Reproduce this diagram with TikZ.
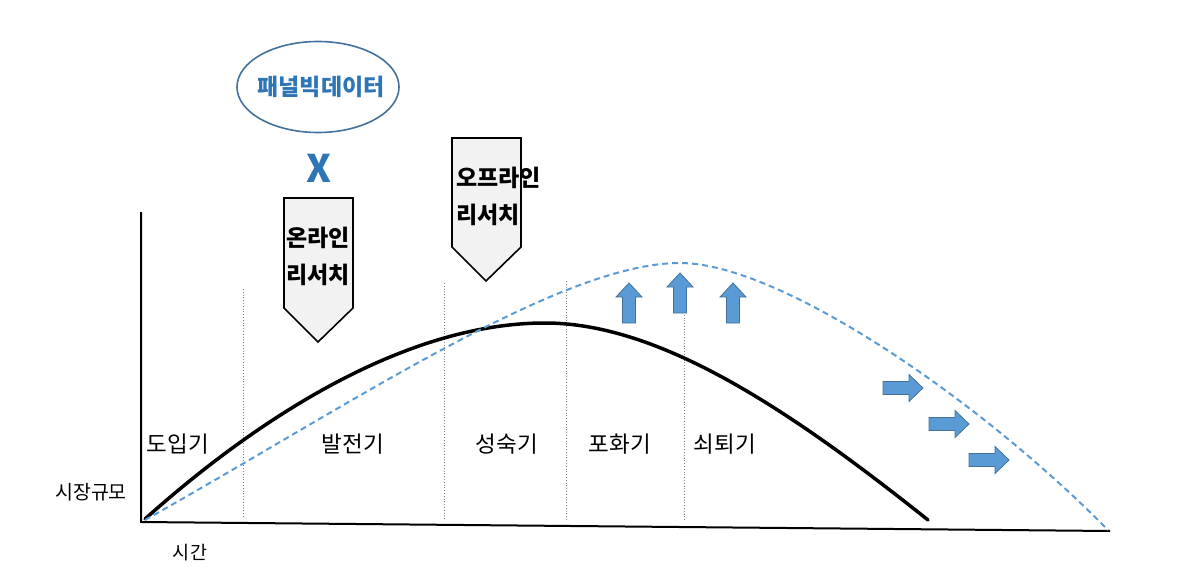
\documentclass[tikz,border=0pt]{standalone}
\usepackage{fontspec}
\setmainfont{Noto Sans CJK KR}
\usetikzlibrary{shapes.geometric}
\definecolor{blueline}{HTML}{5B9BD5}
\definecolor{bluedark}{HTML}{41719C}
\definecolor{bluetext}{HTML}{2E75B6}
\definecolor{calloutfill}{HTML}{F2F2F2}
\tikzset{
  axisline/.style={line width=2pt, black},
  stageline/.style={line width=0.8pt, gray, dotted},
  stagelabel/.style={font=\fontsize{22.5}{26}\selectfont, inner sep=0pt, anchor=center},
  callout/.style={line width=1.6pt, black, fill=calloutfill, line join=miter},
  callouttext/.style={font=\bfseries\fontsize{23}{37}\selectfont, align=left, inner sep=0pt, anchor=north west},
  blockarrow/.style={fill=blueline, draw=bluedark, line width=0.8pt, line join=miter},
}
\begin{document}
\begin{tikzpicture}[x=1pt,y=-1pt]
\useasboundingbox (0,0) rectangle (1188,580);
% axes
\coordinate (o) at (141,522);
\coordinate (ytop) at (141,212);
\coordinate (xend) at (1110,531);
\draw[axisline] (ytop) -- (o) -- (xend);
% stage separators
\draw[stageline] (243,289) -- (243,516);
\draw[stageline] (444,283) -- (444,520);
\draw[stageline] (566,281) -- (566,520);
\draw[stageline] (684,312) -- (684,520);
% curves
\coordinate (bstart) at (145,519);
\coordinate (bpeak) at (545,323);
\coordinate (bend) at (928,520);
\draw[line width=3.5pt, line cap=round] (bstart) .. controls (250,425) and (400,323) .. (bpeak)
  .. controls (660,323) and (790,410) .. (bend);
\coordinate (dstart) at (145,520);
\coordinate (dpeak) at (680,263);
\coordinate (dend) at (1108,530);
\draw[blueline, line width=2pt, dash pattern=on 6pt off 4pt] (dstart) .. controls (350,405) and (560,263) .. (dpeak)
  .. controls (780,263) and (980,400) .. (dend);
% up arrows
\foreach \cx/\top in {629/283, 680/273, 733/283}{
  \draw[blockarrow] (\cx-6.5,\top+40) -- (\cx-6.5,\top+14) -- (\cx-13,\top+14) -- (\cx,\top) -- (\cx+13,\top+14) -- (\cx+6.5,\top+14) -- (\cx+6.5,\top+40) -- cycle;
}
% right arrows
\foreach \lx/\cy in {883/388, 929/424, 969/460}{
  \draw[blockarrow] (\lx,\cy-6.5) -- (\lx+26,\cy-6.5) -- (\lx+26,\cy-13.5) -- (\lx+40,\cy) -- (\lx+26,\cy+13.5) -- (\lx+26,\cy+6.5) -- (\lx,\cy+6.5) -- cycle;
}
% callouts
\draw[callout] (284,198) -- (353,198) -- (353,308) -- (318,342) -- (284,308) -- cycle;
\node[callouttext] (online) at (286,227) {온라인\\리서치};
\draw[callout] (452,138) -- (521,138) -- (521,247) -- (486,281) -- (452,247) -- cycle;
\node[callouttext] (offline) at (456,167) {오프라인\\리서치};
% ellipse and X
\node[ellipse, draw=bluedark, line width=1.6pt, minimum width=162pt, minimum height=91pt, inner sep=0pt] (panelbox) at (318,87) {};
\node[font=\bfseries\fontsize{23}{26}\selectfont, text=bluetext, inner sep=0pt] (panel) at (321,87) {패널빅데이터};
\node[font=\bfseries\fontsize{38}{40}\selectfont, text=bluetext, inner sep=0pt] (times) at (319,168) {X};
% stage labels
\node[stagelabel] (s1) at (178,444) {도입기};
\node[stagelabel] (s2) at (353,444) {발전기};
\node[stagelabel] (s3) at (507,444) {성숙기};
\node[stagelabel] (s4) at (620,444) {포화기};
\node[stagelabel] (s5) at (725,444) {쇠퇴기};
% axis labels
\node[font=\fontsize{19.5}{22}\selectfont, inner sep=0pt] (ylab) at (91,492) {시장규모};
\node[font=\fontsize{18.5}{22}\selectfont, inner sep=0pt] (xlab) at (190,553) {시간};
\end{tikzpicture}
\end{document}
